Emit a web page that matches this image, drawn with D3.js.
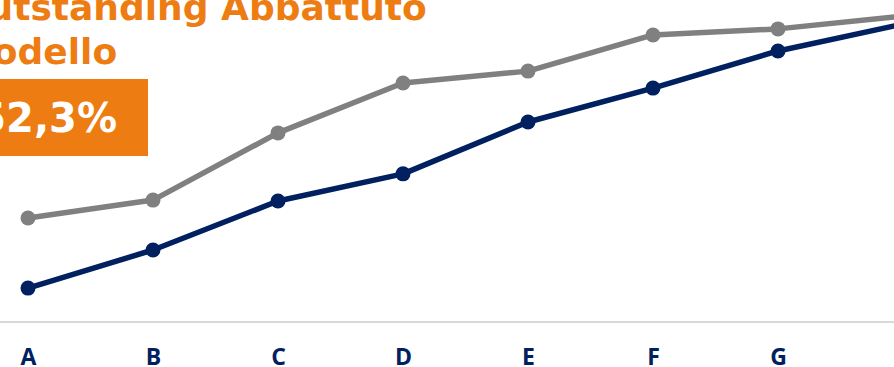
<!DOCTYPE html>
<html>
<head>
<meta charset="utf-8">
<script src="https://cdn.jsdelivr.net/npm/d3@7"></script>
<style>
  html, body { margin: 0; padding: 0; background: #ffffff; overflow: hidden; }
  svg { display: block; }
</style>
</head>
<body>
<svg id="chart" width="894" height="367"></svg>
<script>
// Categories along the x axis
const categories = ["A", "B", "C", "D", "E", "F", "G", "H"];
// Upper (grey) series
const seriesGrey = [32.5, 38.1, 59.1, 74.7, 78.4, 89.7, 91.6, 95.6];
// Lower (navy) series
const seriesNavy = [10.6, 22.5, 37.8, 46.3, 62.5, 73.1, 84.7, 93.1];
// Title lines and highlighted figure
const titleLines = ["Outstanding Abbattuto", "Modello"];
const highlight = "52,3%";

const W = 894, H = 367;
const ORANGE = "#ED7D12";
const NAVY = "#002060";
const GREY = "#808080";

const svg = d3.select("#chart");

const x = d3.scalePoint().domain(categories).range([28, 903]).padding(0);
const y = d3.scaleLinear().domain([0, 100]).range([322, 2]);

// Baseline across the plot width
svg.append("line")
  .attr("x1", 0).attr("x2", W)
  .attr("y1", y(0)).attr("y2", y(0))
  .attr("stroke", "#d9d9d9").attr("stroke-width", 2);

// Category labels
const axis = d3.axisBottom(x).tickSize(0).tickPadding(0);
const gAxis = svg.append("g")
  .attr("transform", `translate(0,${y(0)})`)
  .call(axis);
gAxis.select(".domain").remove();
gAxis.selectAll("text")
  .attr("dy", null)
  .attr("y", 43)
  .attr("fill", NAVY)
  .style("font-family", "'Open Sans', sans-serif")
  .style("font-weight", "700")
  .style("font-size", "23px");

// Lines with markers
const line = d3.line()
  .x((d, i) => x(categories[i]))
  .y(d => y(d));

function drawSeries(values, color) {
  const g = svg.append("g");
  g.append("path")
    .datum(values)
    .attr("d", line)
    .attr("fill", "none")
    .attr("stroke", color)
    .attr("stroke-width", 5.5)
    .attr("stroke-linejoin", "round");
  g.selectAll("circle")
    .data(values)
    .join("circle")
    .attr("cx", (d, i) => x(categories[i]))
    .attr("cy", d => y(d))
    .attr("r", 7.5)
    .attr("fill", color);
}
drawSeries(seriesGrey, GREY);
drawSeries(seriesNavy, NAVY);

// Title
const title = svg.append("text")
  .attr("fill", ORANGE)
  .style("font-family", "'DejaVu Sans', Verdana, sans-serif")
  .style("font-weight", "700")
  .style("font-size", "36px");
title.selectAll("tspan")
  .data(titleLines)
  .join("tspan")
  .attr("x", -43)
  .attr("y", (d, i) => 20 + i * 44)
  .text(d => d);

// Highlight box
svg.append("rect")
  .attr("x", -60).attr("y", 79)
  .attr("width", 208).attr("height", 77)
  .attr("fill", ORANGE);
svg.append("text")
  .attr("x", 117).attr("y", 132)
  .attr("text-anchor", "end")
  .attr("fill", "#ffffff")
  .style("font-family", "'DejaVu Sans', Verdana, sans-serif")
  .style("font-weight", "700")
  .style("font-size", "40px")
  .text(highlight);
</script>
</body>
</html>
